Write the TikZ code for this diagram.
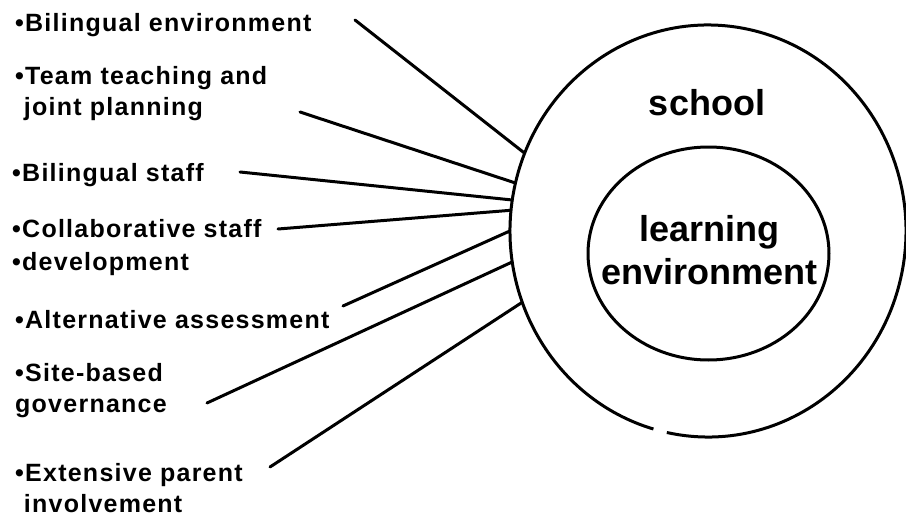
\documentclass[tikz,border=0pt]{standalone}
\usepackage{fontspec}
\setmainfont{Liberation Sans}
\newfontfamily\labfont{Liberation Sans}[LetterSpace=5]
\usetikzlibrary{shapes.geometric}
\begin{document}
\begin{tikzpicture}[x=1pt,y=-1pt,
  lab/.style={anchor=base west,inner sep=0pt,align=left,font=\labfont\bfseries\fontsize{25}{31}\selectfont},
  big/.style={inner sep=0pt,align=center,font=\bfseries\fontsize{36}{43}\selectfont},
  conn/.style={line width=3pt,line cap=round},
  ring/.style={line width=3pt}]
\useasboundingbox (0,0) rectangle (906,519);
% circles
\node[ellipse,minimum width=396pt,minimum height=412pt,inner sep=0pt] (school) at (708,231) {};
\draw[ring] ([shift={(258:198pt and 206pt)}]school.center) arc[start angle=258,end angle=614,x radius=198pt,y radius=206pt];
\node[ellipse,draw,ring,minimum width=241pt,minimum height=213pt,inner sep=0pt] (inner) at (708.5,253.5) {};
\node[big,anchor=base] (schooltext) at (707,115) {school};
\node[big] (letext) at (709.5,250.5) {learning\\environment};
% labels
\node[lab] (l1) at (15,32) {•Bilingual environment};
\node[lab] (l2) at (15,115) {•Team teaching and\\\hphantom{•}joint planning};
\node[lab] (l3) at (12,182) {•Bilingual staff};
\node[lab] (l4) at (12,237) {•Collaborative staff};
\node[lab] (l5) at (12,270) {•development};
\node[lab] (l6) at (15,328) {•Alternative assessment};
\node[lab] (l7) at (15,412) {•Site-based\\governance};
\node[lab] (l8) at (15,512) {•Extensive parent\\\hphantom{•}involvement};
% free ends
\coordinate (e1) at (355,20);
\coordinate (e2) at (300,112);
\coordinate (e3) at (240,172);
\coordinate (e4) at (278,229);
\coordinate (e6) at (343,306);
\coordinate (e7) at (207,403);
\coordinate (e8) at (270,467);
\draw[conn] (e1) -- (school.157.8);
\draw[conn] (e2) -- (school.166.8);
\draw[conn] (e3) -- (school.171.4);
\draw[conn] (e4) -- (school.174.5);
\draw[conn] (e6) -- (school.180.9);
\draw[conn] (e7) -- (school.189.5);
\draw[conn] (e8) -- (school.201.5);
\end{tikzpicture}
\end{document}
